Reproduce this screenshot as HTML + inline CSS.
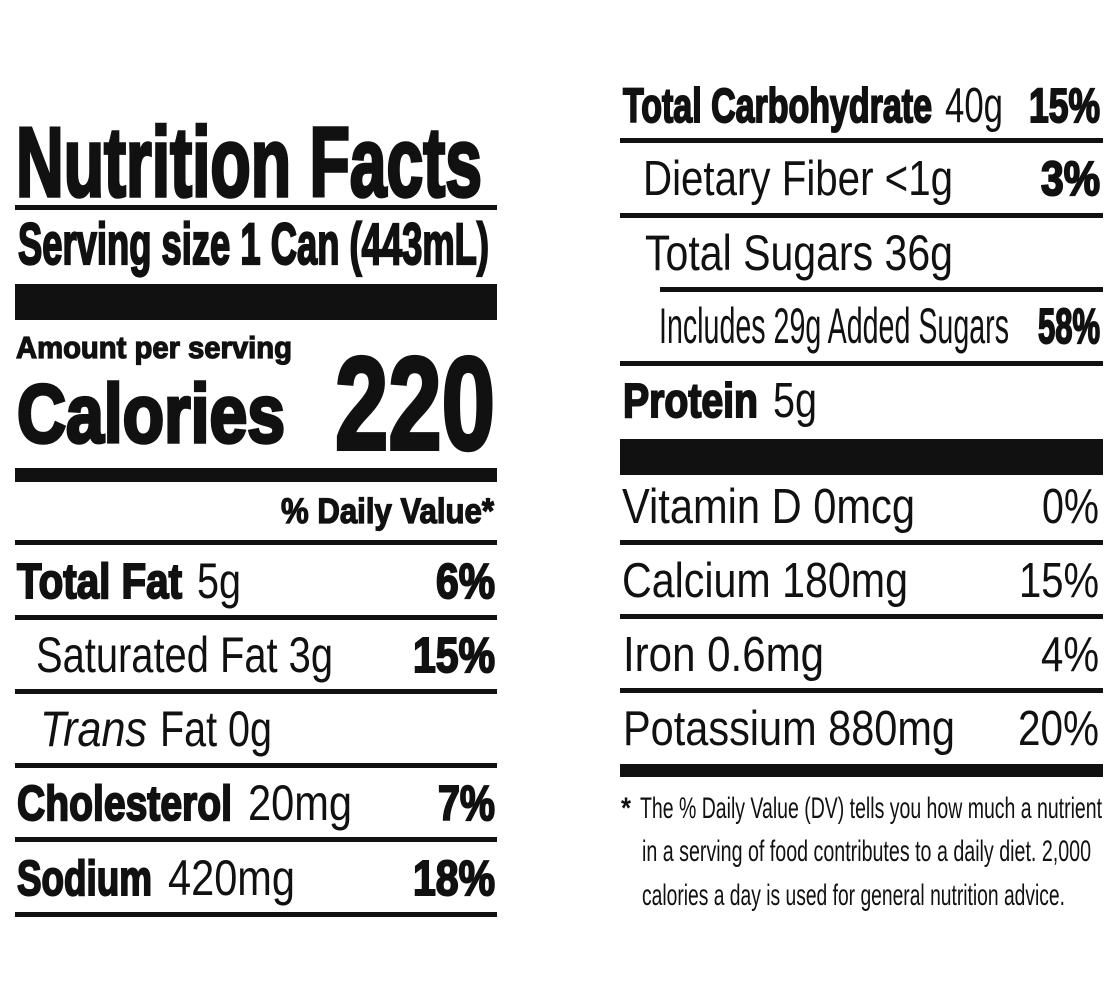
<!DOCTYPE html>
<html><head><meta charset="utf-8"><style>
html,body{margin:0;padding:0;background:#fff;}
svg{display:block;}
text{font-family:"Liberation Sans",Arial,sans-serif;fill:#111;}
.b{font-weight:bold;}
.r{font-weight:normal;}
</style></head><body>
<svg width="1117" height="1000" viewBox="0 0 1117 1000" xmlns="http://www.w3.org/2000/svg">
<rect width="1117" height="1000" fill="#fff"/>
<g fill="#111">
<!-- left rules -->
<rect x="15" y="205" width="482" height="5"/>
<rect x="15" y="284" width="482" height="36"/>
<rect x="15" y="468" width="482" height="14"/>
<rect x="15" y="540" width="482" height="5"/>
<rect x="15" y="615" width="482" height="5"/>
<rect x="15" y="689" width="482" height="5"/>
<rect x="15" y="763" width="482" height="5"/>
<rect x="15" y="837" width="482" height="5"/>
<rect x="15" y="912" width="482" height="5"/>
<!-- right rules -->
<rect x="620" y="138" width="483" height="5"/>
<rect x="620" y="213" width="483" height="5"/>
<rect x="660" y="287" width="443" height="5"/>
<rect x="620" y="361" width="483" height="5"/>
<rect x="620" y="439" width="483" height="36"/>
<rect x="620" y="540" width="483" height="5"/>
<rect x="620" y="614" width="483" height="5"/>
<rect x="620" y="688" width="483" height="5"/>
<rect x="620" y="764" width="483" height="13"/>
</g>

<!-- left text -->
<text class="b" x="16" y="196" font-size="98" textLength="466" lengthAdjust="spacingAndGlyphs" stroke="#111" stroke-width="3.5">Nutrition Facts</text>
<text class="b" x="18" y="264" font-size="58" textLength="471" lengthAdjust="spacingAndGlyphs" stroke="#111" stroke-width="2.2">Serving size 1 Can (443mL)</text>
<text class="b" x="16" y="358" font-size="31" textLength="276" lengthAdjust="spacingAndGlyphs" stroke="#111" stroke-width="1.3">Amount per serving</text>
<text class="b" x="17" y="442" font-size="83" textLength="268" lengthAdjust="spacingAndGlyphs" stroke="#111" stroke-width="3.5">Calories</text>
<text class="b" x="335" y="449" font-size="132" textLength="160" lengthAdjust="spacingAndGlyphs" stroke="#111" stroke-width="4">220</text>
<text class="b" x="281" y="523" font-size="35" textLength="213" lengthAdjust="spacingAndGlyphs" stroke="#111" stroke-width="1.3">% Daily Value*</text>

<text class="b" x="17" y="598" font-size="49" textLength="165" lengthAdjust="spacingAndGlyphs" stroke="#111" stroke-width="2">Total Fat</text>
<text class="r" x="197" y="598" font-size="50" textLength="44" lengthAdjust="spacingAndGlyphs">5g</text>
<text class="b" x="436" y="598" font-size="49" textLength="59" lengthAdjust="spacingAndGlyphs" stroke="#111" stroke-width="2">6%</text>

<text class="r" x="36" y="672" font-size="50" textLength="297" lengthAdjust="spacingAndGlyphs">Saturated Fat 3g</text>
<text class="b" x="413" y="672" font-size="49" textLength="82" lengthAdjust="spacingAndGlyphs" stroke="#111" stroke-width="2">15%</text>

<text class="r" x="40" y="746" font-size="50" font-style="italic" textLength="107" lengthAdjust="spacingAndGlyphs">Trans</text>
<text class="r" x="160" y="746" font-size="50" textLength="112" lengthAdjust="spacingAndGlyphs">Fat 0g</text>

<text class="b" x="17" y="820" font-size="49" textLength="215" lengthAdjust="spacingAndGlyphs" stroke="#111" stroke-width="2">Cholesterol</text>
<text class="r" x="248" y="820" font-size="50" textLength="104" lengthAdjust="spacingAndGlyphs">20mg</text>
<text class="b" x="438" y="820" font-size="49" textLength="57" lengthAdjust="spacingAndGlyphs" stroke="#111" stroke-width="2">7%</text>

<text class="b" x="17" y="895" font-size="49" textLength="135" lengthAdjust="spacingAndGlyphs" stroke="#111" stroke-width="2">Sodium</text>
<text class="r" x="168" y="895" font-size="50" textLength="127" lengthAdjust="spacingAndGlyphs">420mg</text>
<text class="b" x="413" y="895" font-size="49" textLength="82" lengthAdjust="spacingAndGlyphs" stroke="#111" stroke-width="2">18%</text>

<!-- right text -->
<text class="b" x="623" y="122" font-size="48" textLength="309" lengthAdjust="spacingAndGlyphs" stroke="#111" stroke-width="2">Total Carbohydrate</text>
<text class="r" x="945" y="122" font-size="49" textLength="58" lengthAdjust="spacingAndGlyphs">40g</text>
<text class="b" x="1029" y="122" font-size="48" textLength="71" lengthAdjust="spacingAndGlyphs" stroke="#111" stroke-width="2">15%</text>

<text class="r" x="643" y="195" font-size="49" textLength="310" lengthAdjust="spacingAndGlyphs">Dietary Fiber &lt;1g</text>
<text class="b" x="1041" y="195" font-size="48" textLength="59" lengthAdjust="spacingAndGlyphs" stroke="#111" stroke-width="2">3%</text>

<text class="r" x="645" y="270" font-size="50" textLength="308" lengthAdjust="spacingAndGlyphs">Total Sugars 36g</text>

<text class="r" x="659" y="343" font-size="50" textLength="350" lengthAdjust="spacingAndGlyphs">Includes 29g Added Sugars</text>
<text class="b" x="1038" y="343" font-size="49" textLength="62" lengthAdjust="spacingAndGlyphs" stroke="#111" stroke-width="2">58%</text>

<text class="b" x="623" y="417" font-size="48" textLength="135" lengthAdjust="spacingAndGlyphs" stroke="#111" stroke-width="2">Protein</text>
<text class="r" x="773" y="417" font-size="49" textLength="44" lengthAdjust="spacingAndGlyphs">5g</text>

<text class="r" x="622" y="523" font-size="49" textLength="293" lengthAdjust="spacingAndGlyphs">Vitamin D 0mcg</text>
<text class="r" x="1042" y="523" font-size="49" textLength="57" lengthAdjust="spacingAndGlyphs">0%</text>

<text class="r" x="622" y="597" font-size="49" textLength="286" lengthAdjust="spacingAndGlyphs">Calcium 180mg</text>
<text class="r" x="1019" y="597" font-size="49" textLength="80" lengthAdjust="spacingAndGlyphs">15%</text>

<text class="r" x="623" y="671" font-size="49" textLength="201" lengthAdjust="spacingAndGlyphs">Iron 0.6mg</text>
<text class="r" x="1041" y="671" font-size="49" textLength="58" lengthAdjust="spacingAndGlyphs">4%</text>

<text class="r" x="623" y="745" font-size="49" textLength="332" lengthAdjust="spacingAndGlyphs">Potassium 880mg</text>
<text class="r" x="1018" y="745" font-size="49" textLength="81" lengthAdjust="spacingAndGlyphs">20%</text>

<!-- footnote -->
<text class="b" x="621" y="818" font-size="30" textLength="10" lengthAdjust="spacingAndGlyphs">*</text>
<text class="r" x="640" y="818" font-size="30" textLength="462" lengthAdjust="spacingAndGlyphs">The % Daily Value (DV) tells you how much a nutrient</text>
<text class="r" x="642" y="861" font-size="30" textLength="449" lengthAdjust="spacingAndGlyphs">in a serving of food contributes to a daily diet. 2,000</text>
<text class="r" x="642" y="905" font-size="30" textLength="423" lengthAdjust="spacingAndGlyphs">calories a day is used for general nutrition advice.</text>
</svg>
</body></html>
